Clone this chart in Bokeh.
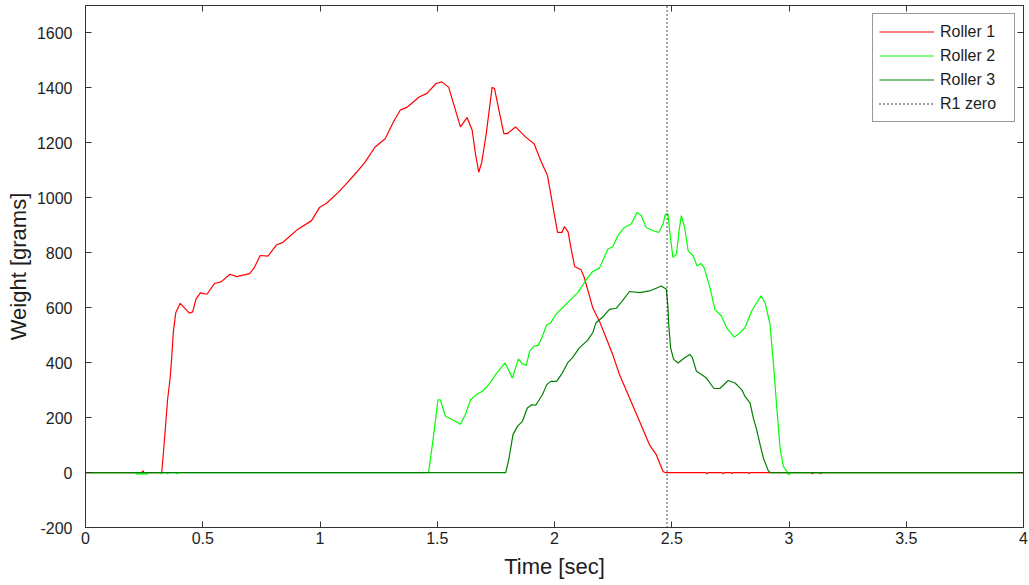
from bokeh.plotting import figure
from bokeh.models import LinearAxis, Range1d, Legend, LegendItem, FixedTicker
from bokeh.embed import file_html
from bokeh.resources import INLINE

# ---- data ----
t1 = [0, 0.24, 0.245, 0.25, 0.325, 0.335, 0.35, 0.361, 0.367, 0.375, 0.385, 0.404,
      0.428, 0.443, 0.457, 0.471, 0.49, 0.518, 0.55, 0.578, 0.616, 0.645, 0.70, 0.72,
      0.745, 0.778, 0.814, 0.842, 0.906, 0.964, 0.999, 1.028, 1.078, 1.106, 1.156,
      1.192, 1.235, 1.278, 1.313, 1.342, 1.37, 1.423, 1.456, 1.495, 1.52, 1.549,
      1.563, 1.599, 1.627, 1.649, 1.663, 1.677, 1.69, 1.709, 1.734, 1.744, 1.763,
      1.784, 1.799, 1.834, 1.877, 1.913, 1.941, 1.97, 1.984, 1.999, 2.013, 2.032,
      2.042, 2.058, 2.07, 2.086, 2.113, 2.127, 2.149, 2.163, 2.191, 2.22, 2.248,
      2.277, 2.32, 2.363, 2.405, 2.434, 2.463, 2.472,
      2.645, 2.65, 2.655, 2.715, 2.72, 2.725, 2.752, 2.757, 2.762, 2.825, 2.83, 2.835,
      3.095, 3.10, 3.105, 3.13, 3.135, 3.14, 4]
r1 = [0, 0, 6, 0, 0, 101, 265, 344, 412, 515, 582, 616,
      594, 580, 585, 631, 654, 649, 688, 694, 722, 713, 724, 746,
      790, 788, 828, 838, 886, 917, 966, 980, 1020, 1045, 1093,
      1130, 1185, 1215, 1276, 1319, 1329, 1367, 1380, 1416, 1422, 1402,
      1361, 1258, 1292, 1246, 1160, 1093, 1130, 1234, 1402, 1398, 1319,
      1234, 1234, 1258, 1221, 1197, 1136, 1081, 1014, 941, 874, 874,
      895, 876, 819, 750, 738, 710, 643, 600, 552, 491, 430,
      357, 271, 186, 101, 65, 4, 0,
      0, -5, 0, 0, -5, 0, 0, -4, 0, 0, -4, 0,
      0, -5, 0, 0, -5, 0, 0]

t2 = [0, 0.21, 0.22, 0.24, 0.26, 0.27, 0.32, 0.325, 0.33, 0.345, 0.35, 0.355,
      0.385, 0.39, 0.395, 1.463, 1.485, 1.503, 1.513, 1.535, 1.563, 1.599, 1.62,
      1.642, 1.663, 1.692, 1.72, 1.749, 1.789, 1.803, 1.82, 1.834, 1.846, 1.863,
      1.88, 1.894, 1.913, 1.931, 1.949, 1.966, 1.984, 2.006, 2.034, 2.063, 2.099,
      2.134, 2.163, 2.191, 2.206, 2.227, 2.248, 2.27, 2.298, 2.327, 2.353, 2.37,
      2.391, 2.42, 2.445, 2.463, 2.473, 2.484, 2.491, 2.505, 2.52, 2.531, 2.541,
      2.555, 2.57, 2.591, 2.608, 2.624, 2.638, 2.663, 2.684, 2.712, 2.734, 2.767,
      2.784, 2.812, 2.841, 2.862, 2.881, 2.898, 2.919, 2.934, 2.948, 2.962, 2.976,
      2.991, 2.998, 3.01, 4]
r2 = [0, 0, -6, -4, -6, 0, 0, -5, 0, 0, -5, 0,
      0, -5, 0, 0, 138, 265, 265, 205, 193, 176, 211,
      265, 281, 296, 320, 357, 399, 375, 344, 381, 414, 396,
      391, 442, 460, 463, 497, 537, 545, 576, 600, 625, 655,
      700, 732, 744, 771, 813, 822, 862, 892, 905, 947, 935,
      892, 880, 874, 905, 941, 941, 880, 783, 795, 880, 935,
      892, 807, 789, 752, 761, 746, 673, 594, 570, 527, 493,
      503, 527, 588, 618, 643, 618, 540, 393, 235, 89, 22,
      4, -8, 0, 0]

t3 = [0, 1.792, 1.806, 1.823, 1.842, 1.863, 1.884, 1.903, 1.92, 1.949, 1.967,
      1.984, 2.009, 2.034, 2.056, 2.077, 2.106, 2.141, 2.163, 2.177, 2.206, 2.234,
      2.263, 2.291, 2.32, 2.363, 2.405, 2.434, 2.455, 2.477, 2.484, 2.487, 2.495,
      2.508, 2.527, 2.555, 2.577, 2.588, 2.605, 2.627, 2.648, 2.68, 2.705, 2.741,
      2.77, 2.798, 2.812, 2.834, 2.848, 2.862, 2.877, 2.891, 2.912, 2.92, 4]
r3 = [0, 0, 52, 138, 168, 186, 235, 247, 245, 284, 320,
      332, 332, 363, 399, 418, 454, 481, 509, 545, 566, 594,
      598, 627, 659, 655, 661, 671, 679, 667, 600, 540, 454,
      412, 399, 418, 430, 418, 369, 357, 344, 306, 306, 335,
      326, 302, 278, 253, 198, 156, 101, 52, 6, 0, 0]

r1_zero = 2.48

x_ticks = [0, 0.5, 1, 1.5, 2, 2.5, 3, 3.5, 4]
x_tick_labels = ["0", "0.5", "1", "1.5", "2", "2.5", "3", "3.5", "4"]
y_ticks = [-200, 0, 200, 400, 600, 800, 1000, 1200, 1400, 1600]
y_tick_labels = ["-200", "0", "200", "400", "600", "800", "1000", "1200", "1400", "1600"]
y_min, y_max = -200, 1700
x_min, x_max = 0, 4

series_names = ["Roller 1", "Roller 2", "Roller 3", "R1 zero"]

FONT = "Liberation Sans"
AX = "#333333"
TXT = "#1e1e1e"

p = figure(width=1029, height=585, x_range=Range1d(x_min, x_max),
           y_range=Range1d(y_min, y_max), output_backend="svg",
           toolbar_location=None, min_border_left=85, min_border_right=6,
           min_border_top=5, min_border_bottom=58)
p.xgrid.visible = False
p.ygrid.visible = False
p.outline_line_color = AX
p.outline_line_width = 1
p.background_fill_color = "white"
p.border_fill_color = "white"

for ax in (p.xaxis[0], p.yaxis[0]):
    ax.major_tick_in = 6
    ax.major_tick_out = 0
    ax.minor_tick_in = 0
    ax.minor_tick_out = 0
    ax.axis_line_color = AX
    ax.major_tick_line_color = AX
    ax.major_label_text_font = FONT
    ax.major_label_text_font_size = "16px"
    ax.major_label_text_color = TXT
    ax.axis_label_text_font = FONT
    ax.axis_label_text_font_size = "22px"
    ax.axis_label_text_font_style = "normal"
    ax.axis_label_text_color = TXT

p.xaxis[0].ticker = FixedTicker(ticks=x_ticks)
p.xaxis[0].major_label_overrides = {t: s for t, s in zip(x_ticks, x_tick_labels)}
p.xaxis[0].axis_label = "Time [sec]"
p.xaxis[0].major_label_standoff = 4
p.xaxis[0].axis_label_standoff = 7
p.yaxis[0].ticker = FixedTicker(ticks=y_ticks)
p.yaxis[0].major_label_overrides = {t: s for t, s in zip(y_ticks, y_tick_labels)}
p.yaxis[0].axis_label = "Weight [grams]"
p.yaxis[0].major_label_standoff = 13
p.yaxis[0].axis_label_standoff = 3

top = LinearAxis(ticker=FixedTicker(ticks=x_ticks), major_tick_in=6, major_tick_out=0,
                 minor_tick_in=0, minor_tick_out=0, major_label_text_font_size="0px",
                 major_label_standoff=0, axis_line_color=AX, major_tick_line_color=AX,
                 major_label_text_alpha=0)
right = LinearAxis(ticker=FixedTicker(ticks=y_ticks), major_tick_in=6, major_tick_out=0,
                   minor_tick_in=0, minor_tick_out=0, major_label_text_font_size="0px",
                   major_label_standoff=0, axis_line_color=AX, major_tick_line_color=AX,
                   major_label_text_alpha=0)
p.add_layout(top, "above")
p.add_layout(right, "right")

l1 = p.line(t1, r1, line_color="#ff0000", line_width=1.2)
l2 = p.line(t2, r2, line_color="#00ff00", line_width=1.2)
l3 = p.line(t3, r3, line_color="#008000", line_width=1.2)
l4 = p.line([r1_zero, r1_zero], [y_min, y_max], line_color="#000000", line_width=1.4,
            line_dash="1 3")

legend = Legend(items=[LegendItem(label=n, renderers=[r]) for n, r in
                       zip(series_names, [l1, l2, l3, l4])],
                location="top_right")
legend.label_text_font = FONT
legend.label_text_font_size = "16px"
legend.label_text_color = TXT
legend.glyph_width = 55
legend.glyph_height = 23
legend.label_height = 23
legend.label_width = 68
legend.label_standoff = 6
legend.spacing = 1
legend.padding = 6
legend.margin = 8
legend.border_line_color = AX
legend.border_line_width = 1
legend.background_fill_alpha = 1
p.add_layout(legend)

open("out.html", "w").write(file_html(p, INLINE))
